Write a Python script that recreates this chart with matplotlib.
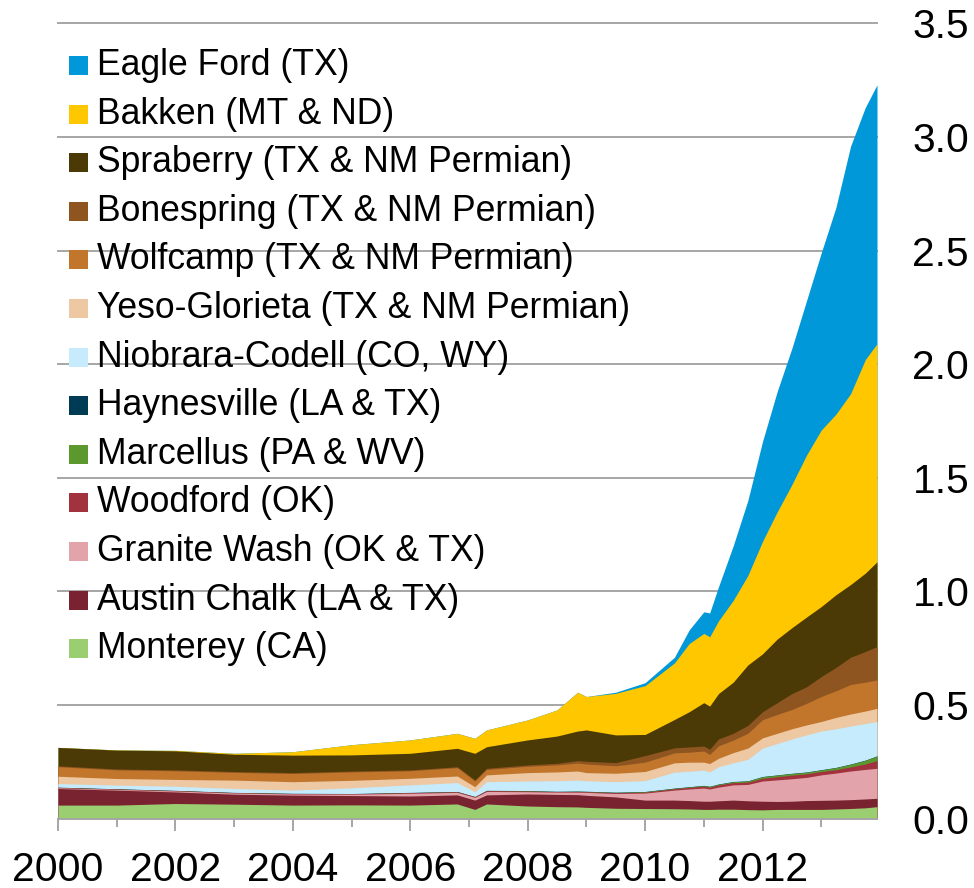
import matplotlib
matplotlib.use("Agg")
import matplotlib.pyplot as plt
from matplotlib.patches import Rectangle
import numpy as np

plt.rcParams['font.family'] = ['Liberation Sans', 'DejaVu Sans']

# ---------------- data (million barrels per day) ----------------
dates = [2000.0, 2001.0, 2002.0, 2003.0, 2004.0, 2005.0, 2006.0, 2006.8, 2007.1, 2007.3,
         2008.0, 2008.5, 2008.85, 2009.0, 2009.5, 2010.0, 2010.5, 2010.75, 2011.0, 2011.1,
         2011.25, 2011.5, 2011.75, 2012.0, 2012.25, 2012.5, 2012.75, 2013.0, 2013.25, 2013.5,
         2013.75, 2013.95]

monterey = [.059, .059, .066, .063, .059, .060, .059, .064, .040, .064, .055, .052, .051, .049, .045, .044,
            .043, .042, .040, .040, .041, .041, .039, .038, .040, .040, .040, .040, .042, .044, .047, .052]
austin_chalk = [.073, .066, .051, .044, .044, .041, .040, .040, .041, .040, .053, .054, .054, .053, .050, .037,
                .038, .037, .036, .036, .037, .040, .039, .038, .035, .036, .039, .040, .039, .039, .039, .037]
granite_wash = [.003, .003, .004, .005, .005, .006, .012, .011, .012, .015, .010, .010, .011, .013, .015, .031,
                .044, .051, .058, .054, .060, .067, .072, .089, .095, .099, .102, .112, .119, .126, .130, .132]
woodford = [.002, .002, .002, .002, .002, .002, .003, .003, .003, .004, .003, .002, .003, .003, .004, .004,
            .006, .007, .008, .008, .010, .010, .010, .012, .014, .016, .016, .015, .015, .018, .024, .034]
marcellus = [0, 0, 0, 0, 0, 0, 0, 0, 0, 0, .001, .001, .001, .001, .001, .002,
             .002, .002, .003, .003, .003, .004, .005, .007, .007, .007, .007, .007, .009, .012, .016, .020]
haynesville = [.001, .001, .001, .001, .001, .001, .001, .001, .001, .001, .001, .001, .001, .001, .001, .001,
               .001, .001, .001, .001, .001, .001, .001, .001, .001, .001, .001, .001, .001, .001, .001, .001]
niobrara = [.016, .016, .018, .017, .014, .025, .033, .039, .021, .038, .042, .046, .048, .046, .046, .048,
            .070, .068, .067, .063, .076, .082, .094, .125, .138, .151, .163, .170, .170, .167, .161, .151]
yeso = [.032, .029, .030, .037, .037, .033, .029, .029, .022, .030, .037, .039, .040, .036, .037, .040,
        .041, .040, .035, .037, .037, .045, .050, .045, .045, .045, .044, .042, .050, .053, .055, .058]
wolfcamp = [.042, .038, .038, .034, .036, .037, .033, .037, .025, .024, .028, .031, .035, .038, .033, .041,
            .044, .044, .049, .040, .055, .055, .065, .080, .083, .085, .095, .110, .117, .130, .127, .125]
bonespring = [.004, .004, .004, .004, .004, .004, .004, .004, .005, .005, .006, .007, .011, .012, .014, .029,
              .022, .023, .022, .023, .030, .030, .035, .035, .052, .070, .073, .088, .103, .120, .135, .147]
spraberry = [.081, .083, .084, .076, .077, .071, .073, .081, .117, .095, .110, .120, .130, .138, .122, .093,
             .125, .155, .191, .190, .200, .225, .266, .255, .280, .290, .307, .308, .320, .320, .345, .373]
bakken = [0, .001, .002, .004, .015, .045, .059, .066, .066, .074, .088, .115, .171, .147, .183, .215,
          .249, .300, .305, .305, .320, .360, .394, .495, .560, .630, .713, .777, .795, .840, .940, .960]
eagle_ford = [0, 0, 0, 0, 0, 0, 0, 0, 0, 0, 0, 0, 0, 0, .005, .013,
              .025, .060, .095, .105, .150, .240, .330, .440, .530, .600, .680, .780, .910, 1.09, 1.11, 1.14]

# bottom-to-top stacking order
series = [monterey, austin_chalk, granite_wash, woodford, marcellus, haynesville, niobrara,
          yeso, wolfcamp, bonespring, spraberry, bakken, eagle_ford]
labels = ['Monterey (CA)', 'Austin Chalk (LA & TX)', 'Granite Wash (OK & TX)', 'Woodford (OK)',
          'Marcellus (PA & WV)', 'Haynesville (LA & TX)', 'Niobrara-Codell (CO, WY)',
          'Yeso-Glorieta (TX & NM Permian)', 'Wolfcamp (TX & NM Permian)',
          'Bonespring (TX & NM Permian)', 'Spraberry (TX & NM Permian)', 'Bakken (MT & ND)',
          'Eagle Ford (TX)']
colors = ['#9ACE71', '#78232F', '#E2A4AA', '#A3323F', '#5B992F', '#003B55', '#C5EBFD',
          '#EEC8A2', '#C1762C', '#8E5521', '#4B3A06', '#FFC700', '#0098D8']

x_major = [2000, 2002, 2004, 2006, 2008, 2010, 2012]
x_minor = [2001, 2003, 2005, 2007, 2009, 2011, 2013]
y_ticks = [0.0, 0.5, 1.0, 1.5, 2.0, 2.5, 3.0, 3.5]

# ---------------- figure ----------------
W, H = 974, 888
fig = plt.figure(figsize=(W / 100, H / 100), dpi=100)
ax = fig.add_axes([58 / W, 69.5 / H, (877 - 58) / W, (864.5 - 69.5) / H])

cum = np.cumsum(np.array(series, dtype=float), axis=0)
for i in reversed(range(len(series))):
    ax.fill_between(dates, 0, cum[i], color=colors[i], linewidth=0, zorder=2)

gray = '#A6A6A6'
ax.set_xlim(2000, 2013.95)
ax.set_ylim(0, 3.5)
ax.set_xticks(x_major)
ax.set_xticklabels([str(v) for v in x_major])
ax.set_xticks(x_minor, minor=True)
ax.set_yticks(y_ticks)
ax.set_yticklabels([f'{v:.1f}' for v in y_ticks])
ax.yaxis.tick_right()

ax.tick_params(axis='y', which='both', length=0, pad=25.5, labelsize=29.3, labelcolor='black')
ax.tick_params(axis='x', which='major', length=8.6, width=1.4, color=gray, pad=14.5,
               labelsize=29.5, direction='out')
ax.tick_params(axis='x', which='minor', length=5.8, width=1.4, color=gray, direction='out')

for s in ['top', 'left', 'right']:
    ax.spines[s].set_visible(False)
ax.spines['bottom'].set_color(gray)
ax.spines['bottom'].set_linewidth(1.4)

ax.set_axisbelow(True)
ax.grid(axis='y', color=gray, linewidth=1.4)
ax.grid(axis='x', visible=False)
for gl in ax.get_ygridlines():
    gl.set_clip_on(False)

# ---------------- legend (top entry = top of stack) ----------------
for k, idx in enumerate(reversed(range(len(series)))):
    base = 75 + 48.6 * k
    yb = 1 - base / H
    fig.patches.append(Rectangle((69 / W, yb), 19 / W, 19 / H, transform=fig.transFigure,
                                 facecolor=colors[idx], edgecolor='none'))
    fig.text(97 / W, yb, labels[idx], fontsize=25.6, va='baseline', ha='left', color='black')

fig.savefig('out.png', dpi=100)
